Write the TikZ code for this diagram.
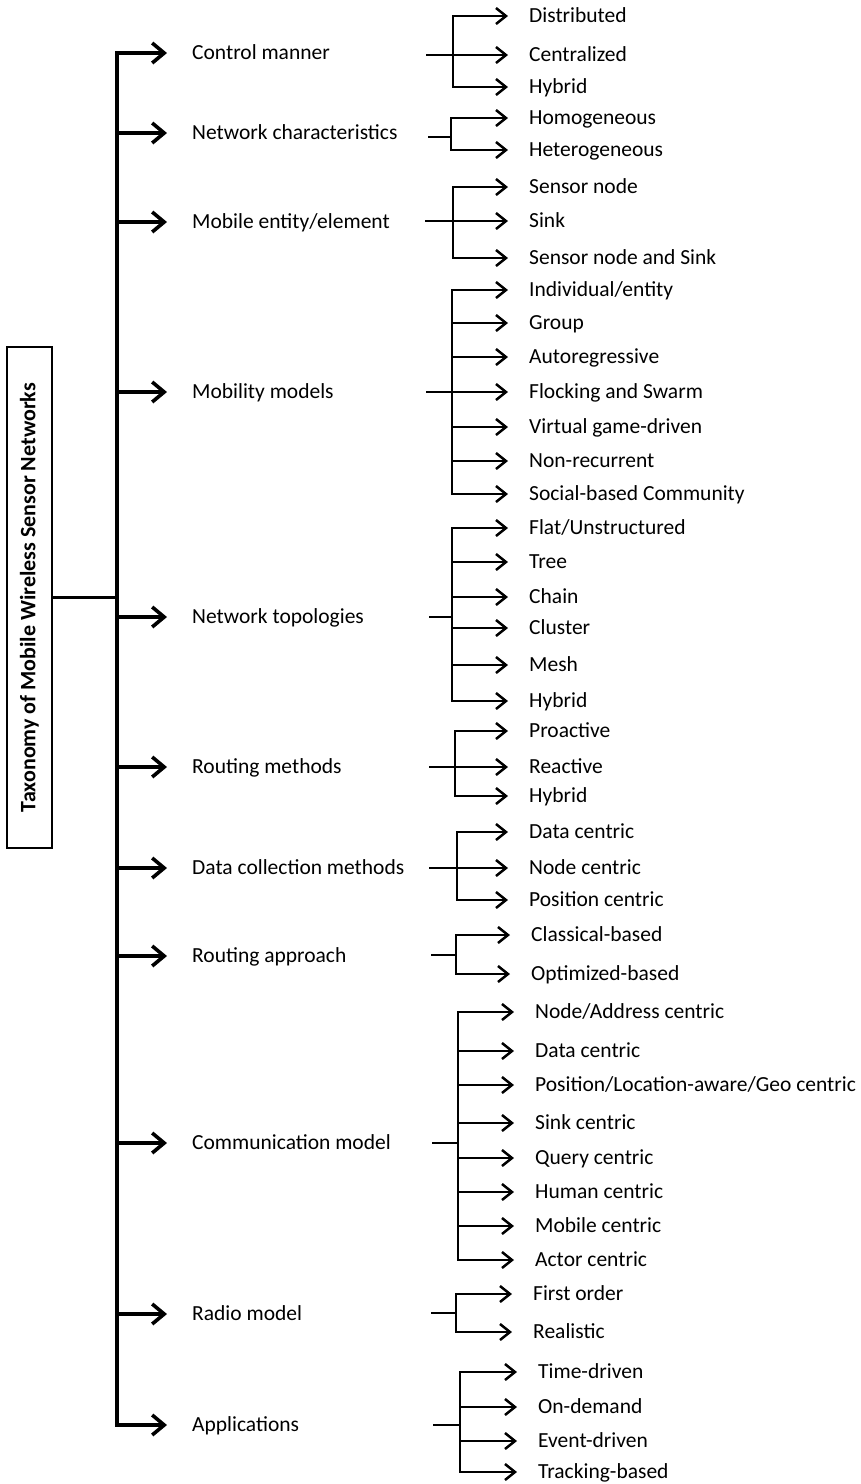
\documentclass[tikz,border=0pt]{standalone}
\usepackage{fontspec}
\setmainfont{Carlito}
\usetikzlibrary{arrows.meta}

\tikzset{
  lbl/.style={inner sep=0pt, anchor=west, text height=13.8pt, text depth=0pt,
              font=\fontsize{21.5}{26}\selectfont},
  rootbox/.style={draw, line width=1.3pt, rotate=90, minimum width=501pt,
              minimum height=45pt, inner sep=0pt,
              font=\fontsize{22}{26}\selectfont\bfseries},
  trunk/.style={line width=4pt, line cap=rect},
  arr1/.style={line width=3.6pt, -{Straight Barb[length=12pt,width=20pt]},
               shorten >=25pt},
  wire/.style={line width=2.5pt, line cap=rect},
  arr2/.style={line width=2.5pt, -{Straight Barb[length=10pt,width=16pt]},
               shorten >=21pt},
}

% one second-level fan: #1 name, #2 stub start x, #3 spine x, #4 stub y,
% #5 label x, #6 list of y/{label}
\newcommand{\fan}[6]{%
  \coordinate (#1-s) at (#2,#4);
  \coordinate (#1-j) at (#3,#4);
  \draw[wire] (#1-s) -- (#1-j);
  \foreach \yy/\tt [count=\i] in {#6}{%
    \node[lbl] (#1-\i) at (#5,\yy) {\tt};
    \coordinate (#1-b\i) at (#3,\yy);
    \draw[arr2] (#1-b\i) -- (#1-\i.west);
    \xdef\lastidx{\i}%
  }
  \draw[wire] (#1-b1) -- (#1-b\lastidx);
}

\begin{document}
\begin{tikzpicture}[x=1pt,y=-1pt]
\useasboundingbox[fill=white] (0,0) rectangle (860,1484);

% root of the taxonomy
\node[rootbox] (root) at (29.5,597.5) {Taxonomy of Mobile Wireless Sensor Networks};
\coordinate (trunk-m) at (117,597.5);
\coordinate (trunk-top) at (117,53);
\coordinate (trunk-bot) at (117,1425);
\draw[trunk] (trunk-top) -- (trunk-bot);
\draw[line width=3.6pt] (root.south) -- (trunk-m);

% first-level categories
\foreach \yy/\tt/\nm in {53/{Control manner}/cm,
                          133/{Network characteristics}/nc,
                          222/{Mobile entity/element}/me,
                          392/{Mobility models}/mm,
                          617/{Network topologies}/nt,
                          767/{Routing methods}/rm,
                          868/{Data collection methods}/dc,
                          956/{Routing approach}/ra,
                          1143/{Communication model}/co,
                          1314/{Radio model}/rd,
                          1425/{Applications}/ap}{%
  \node[lbl] (\nm) at (192,\yy) {\tt};
  \coordinate (\nm-t) at (117,\yy);
  \draw[arr1] (\nm-t) -- (\nm.west);
}

% second-level fans
\fan{cmf}{427}{453}{55}{529}{16/{Distributed}, 55/{Centralized}, 87/{Hybrid}}
\fan{ncf}{429}{451}{137}{529}{118/{Homogeneous}, 150/{Heterogeneous}}
\fan{mef}{426}{453}{221}{529}{187/{Sensor node}, 221/{Sink}, 258/{Sensor node and Sink}}
\fan{mmf}{427}{452}{392}{529}{290/{Individual/entity}, 323/{Group}, 357/{Autoregressive},
  392/{Flocking and Swarm}, 427/{Virtual game-driven}, 461/{Non-recurrent},
  494/{Social-based Community}}
\fan{ntf}{430}{452}{617}{529}{528/{Flat/Unstructured}, 562/{Tree}, 597/{Chain},
  628/{Cluster}, 665/{Mesh}, 701/{Hybrid}}
\fan{rmf}{430}{455}{767}{529}{731/{Proactive}, 767/{Reactive}, 796/{Hybrid}}
\fan{dcf}{430}{457}{868}{529}{832/{Data centric}, 868/{Node centric}, 900/{Position centric}}
\fan{raf}{432}{456}{955}{531}{935/{Classical-based}, 974/{Optimized-based}}
\fan{cof}{433}{458}{1143}{535}{1012/{Node/Address centric}, 1051/{Data centric},
  1085/{Position/Location-aware/Geo centric}, 1123/{Sink centric},
  1158/{Query centric}, 1192/{Human centric}, 1226/{Mobile centric},
  1260/{Actor centric}}
\fan{rdf}{432}{456}{1313}{533}{1294/{First order}, 1332/{Realistic}}
\fan{apf}{434}{460}{1425}{538}{1372/{Time-driven}, 1407/{On-demand},
  1441/{Event-driven}, 1472/{Tracking-based}}
\end{tikzpicture}
\end{document}
